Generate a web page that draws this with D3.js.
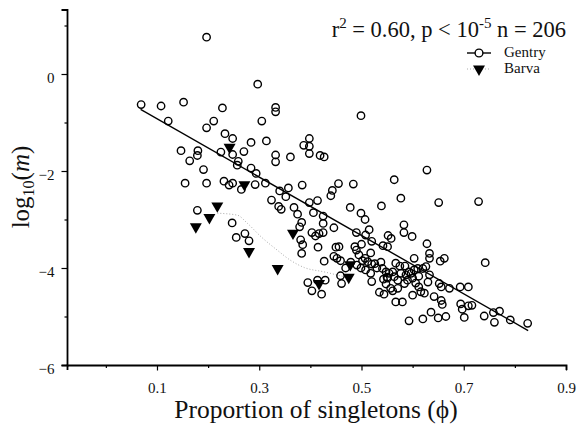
<!DOCTYPE html>
<html>
<head>
<meta charset="utf-8">
<script src="https://cdn.jsdelivr.net/npm/d3@7"></script>
<style>
  body { margin: 0; background: #fff; }
  svg text { font-family: "Liberation Serif", "Times New Roman", serif; fill: #111; }
</style>
</head>
<body>
<svg id="chart" width="578" height="429"></svg>
<script>
"use strict";

// Gentry plots: proportion of singletons (phi) and log10(m)
let gentryPhi = [
  0.197, 0.069, 0.108, 0.152, 0.122, 0.228, 0.211, 0.197, 0.233, 0.248,
  0.284, 0.305, 0.297, 0.147, 0.180, 0.179, 0.164, 0.225, 0.248, 0.270,
  0.259, 0.257, 0.191, 0.284, 0.294, 0.155, 0.197, 0.231, 0.241, 0.248,
  0.265, 0.292, 0.179, 0.247, 0.272, 0.255, 0.280, 0.332, 0.332, 0.499,
  0.314, 0.332, 0.332, 0.361, 0.387, 0.398, 0.398, 0.398, 0.419, 0.427,
  0.312, 0.340, 0.357, 0.352, 0.324, 0.338, 0.343, 0.368, 0.375, 0.383,
  0.379, 0.384, 0.398, 0.414, 0.406, 0.425, 0.425, 0.455, 0.443, 0.440,
  0.446, 0.484, 0.478, 0.499, 0.507, 0.539, 0.490, 0.515, 0.564, 0.577,
  0.583, 0.583, 0.599, 0.552, 0.558, 0.628, 0.520, 0.403, 0.410, 0.417,
  0.425, 0.381, 0.385, 0.383, 0.415, 0.450, 0.456, 0.487, 0.490, 0.500,
  0.542, 0.551, 0.628, 0.633, 0.633, 0.662, 0.654, 0.603, 0.742, 0.651,
  0.729, 0.427, 0.446, 0.452, 0.459, 0.495, 0.518, 0.507, 0.502, 0.520,
  0.395, 0.414, 0.403, 0.422, 0.429, 0.459, 0.461, 0.520, 0.518, 0.543,
  0.550, 0.557, 0.561, 0.535, 0.491, 0.499, 0.508, 0.530, 0.538, 0.541,
  0.548, 0.554, 0.561, 0.564, 0.571, 0.551, 0.577, 0.587, 0.593, 0.597,
  0.603, 0.610, 0.620, 0.626, 0.600, 0.590, 0.584, 0.567, 0.633, 0.652,
  0.656, 0.672, 0.693, 0.709, 0.612, 0.616, 0.623, 0.600, 0.642, 0.656,
  0.658, 0.567, 0.580, 0.636, 0.620, 0.593, 0.650, 0.665, 0.694, 0.697,
  0.709, 0.716, 0.701, 0.740, 0.758, 0.770, 0.760, 0.791, 0.825, 0.526,
  0.512, 0.571, 0.544, 0.479, 0.469, 0.575, 0.612, 0.585, 0.630, 0.606,
  0.548, 0.508
];
let gentryLogM = [
  0.76, -0.63, -0.66, -0.58, -0.97, -0.70, -0.97, -1.11, -1.23, -1.33,
  -1.41, -0.97, -0.21, -1.58, -1.58, -1.68, -1.79, -1.61, -1.66, -1.60,
  -1.80, -1.88, -1.97, -1.94, -2.05, -2.25, -2.25, -2.21, -2.29, -2.25,
  -2.38, -2.28, -2.81, -3.07, -3.29, -3.37, -3.44, -0.69, -0.78, -0.86,
  -1.38, -1.67, -1.81, -1.71, -1.47, -1.33, -1.49, -1.64, -1.68, -1.71,
  -2.25, -2.41, -2.35, -2.53, -2.60, -2.73, -2.79, -2.75, -2.89, -3.06,
  -3.15, -2.29, -2.65, -2.61, -2.86, -2.93, -3.08, -2.26, -2.40, -2.51,
  -3.17, -2.27, -2.75, -2.87, -3.00, -2.72, -3.27, -3.21, -2.18, -2.56,
  -3.11, -3.27, -3.35, -3.33, -3.39, -1.98, -3.45, -3.27, -3.34, -3.29,
  -3.27, -3.42, -3.52, -3.70, -3.57, -3.57, -3.56, -3.56, -3.63, -3.51,
  -3.54, -3.56, -3.50, -3.70, -3.80, -3.80, -3.86, -3.80, -3.89, -2.65,
  -2.63, -3.86, -3.76, -3.80, -3.85, -3.73, -3.69, -3.80, -3.85, -3.92,
  -4.30, -4.25, -4.47, -4.54, -4.25, -4.16, -4.32, -4.28, -4.11, -4.23,
  -4.19, -4.42, -4.47, -4.50, -3.94, -4.00, -4.04, -4.00, -3.88, -4.01,
  -4.08, -4.11, -4.08, -4.18, -4.25, -4.21, -4.11, -4.14, -4.08, -4.11,
  -4.04, -4.01, -4.01, -3.97, -4.21, -4.25, -4.32, -3.90, -4.14, -4.32,
  -4.39, -4.42, -4.39, -4.39, -4.39, -4.49, -4.52, -4.56, -4.59, -4.67,
  -4.75, -4.70, -4.70, -4.91, -5.05, -5.09, -5.03, -5.00, -4.74, -4.85,
  -4.78, -4.77, -5.02, -4.99, -4.92, -4.89, -5.12, -5.07, -5.14, -3.91,
  -3.87, -4.42, -4.54, -3.88, -4.00, -3.96, -4.17, -3.96, -4.29, -4.31,
  -4.33, -3.32
];

// Barva plots
let barvaPhi = [0.242, 0.271, 0.218, 0.2025, 0.176, 0.280, 0.336, 0.366, 0.417, 0.478, 0.475];
let barvaLogM = [-1.51, -2.28, -2.72, -2.96, -3.15, -3.66, -4.01, -3.28, -4.32, -3.93, -4.19];

// smoothed Barva trend (dotted)
let barvaTrendPhi = [0.218, 0.257, 0.277, 0.303, 0.335, 0.361, 0.388, 0.427, 0.466];
let barvaTrendLogM = [-2.87, -2.91, -3.08, -3.35, -3.63, -3.84, -3.99, -4.08, -4.18];

// Gentry regression line
let fitPhi = [0.068, 0.826];
let fitLogM = [-0.73, -5.29];

let xTickValues = [0, 0.1, 0.2, 0.3, 0.4, 0.5, 0.6, 0.7, 0.8, 0.9];
let xLabelValues = [0.1, 0.3, 0.5, 0.7, 0.9];
let yTickValues = [-6, -4, -2, 0];
let yMinorValues = [-5, -3, -1, 1];

let svg = d3.select("#chart");

let x = d3.scaleLinear().domain([-0.076, 0.9]).range([67, 566]);
let y = d3.scaleLinear().domain([-6, 1.33]).range([365, 9.5]);

function isLabelled(d) {
  return xLabelValues.some(v => Math.abs(v - d) < 1e-9);
}

// x axis
let xAxis = svg.append("g")
  .attr("transform", "translate(0,365)")
  .call(d3.axisBottom(x)
    .tickValues(xTickValues)
    .tickSizeOuter(0)
    .tickSize(5)
    .tickFormat(d => isLabelled(d) ? d3.format(".1f")(d) : ""));
xAxis.select(".domain").attr("stroke-width", 1.8);
xAxis.selectAll(".tick line")
  .attr("stroke-width", 1.2)
  .attr("y2", d => isLabelled(d) ? 5.5 : 3);
xAxis.selectAll(".tick text")
  .attr("y", 0).attr("dy", 0)
  .attr("transform", "translate(0,28)")
  .style("font-size", "15px")
  .style("font-family", "'Liberation Serif', serif")
  .attr("fill", "#222");

// y axis
let yAxis = svg.append("g")
  .attr("transform", "translate(67,0)")
  .call(d3.axisLeft(y).tickValues(yTickValues).tickSizeOuter(0).tickSize(5.5).tickFormat(d3.format("d")));
yAxis.select(".domain").attr("stroke-width", 1.8);
yAxis.selectAll(".tick line").attr("stroke-width", 1.2);
yAxis.selectAll(".tick text")
  .attr("x", -12.5).attr("dy", 0)
  .attr("transform", "translate(0,8)")
  .style("font-size", "15px")
  .style("font-family", "'Liberation Serif', serif")
  .attr("fill", "#222");

let yMinor = svg.append("g")
  .attr("transform", "translate(67,0)")
  .call(d3.axisLeft(y).tickValues(yMinorValues).tickSize(2.5).tickFormat(""));
yMinor.select(".domain").remove();
yMinor.selectAll(".tick line").attr("stroke-width", 1.2);

// axis titles
svg.append("text")
  .attr("x", 316).attr("y", 418)
  .attr("text-anchor", "middle")
  .style("font-size", "25.5px")
  .text("Proportion of singletons (\u03d5)");

let yTitle = svg.append("text")
  .attr("transform", "translate(29,187) rotate(-90)")
  .attr("text-anchor", "middle")
  .style("font-size", "25px");
yTitle.append("tspan").text("log");
yTitle.append("tspan").attr("dy", 5).style("font-size", "16px").text("10");
yTitle.append("tspan").attr("dy", -5).text("(");
yTitle.append("tspan").style("font-style", "italic").text("m");
yTitle.append("tspan").text(")");

// statistics annotation
let stat = svg.append("text")
  .attr("x", 566).attr("y", 37)
  .attr("text-anchor", "end")
  .style("font-size", "22.5px");
stat.append("tspan").text("r");
stat.append("tspan").attr("dy", -9).style("font-size", "15px").text("2");
stat.append("tspan").attr("dy", 9).text(" = 0.60, p < 10");
stat.append("tspan").attr("dy", -9).style("font-size", "15px").text("-5");
stat.append("tspan").attr("dy", 9).text(" n = 206");

// Gentry regression line
let fitLine = d3.line().x(d => x(d[0])).y(d => y(d[1]));
svg.append("path")
  .datum(d3.zip(fitPhi, fitLogM))
  .attr("d", fitLine)
  .attr("fill", "none")
  .attr("stroke", "#000")
  .attr("stroke-width", 1.4);

// Barva dotted trend
let trendLine = d3.line().x(d => x(d[0])).y(d => y(d[1])).curve(d3.curveMonotoneX);
svg.append("path")
  .datum(d3.zip(barvaTrendPhi, barvaTrendLogM))
  .attr("d", trendLine)
  .attr("fill", "none")
  .attr("stroke", "#aaa")
  .attr("stroke-width", 1)
  .attr("stroke-dasharray", "1,2");

// Gentry circles
svg.append("g").selectAll("circle")
  .data(d3.zip(gentryPhi, gentryLogM))
  .enter()
  .append("circle")
  .attr("cx", d => x(d[0]))
  .attr("cy", d => y(d[1]))
  .attr("r", 3.7)
  .attr("fill", "none")
  .attr("stroke", "#000")
  .attr("stroke-width", 1.4);

// Barva triangles
let tri = d3.symbol().type(d3.symbolTriangle).size(62);
svg.append("g").selectAll("path")
  .data(d3.zip(barvaPhi, barvaLogM))
  .enter()
  .append("path")
  .attr("d", tri)
  .attr("transform", d => `translate(${x(d[0])},${y(d[1])}) rotate(180)`)
  .attr("fill", "#000");

// legend
let legend = svg.append("g");
legend.append("line")
  .attr("x1", 467).attr("x2", 491).attr("y1", 53).attr("y2", 53)
  .attr("stroke", "#000").attr("stroke-width", 1.4);
legend.append("circle")
  .attr("cx", 479).attr("cy", 53).attr("r", 3.9)
  .attr("fill", "#fff").attr("stroke", "#000").attr("stroke-width", 1.4);
legend.append("text").attr("x", 504).attr("y", 57).style("font-size", "15px").text("Gentry");
legend.append("line")
  .attr("x1", 467).attr("x2", 491).attr("y1", 69).attr("y2", 69)
  .attr("stroke", "#aaa").attr("stroke-width", 1).attr("stroke-dasharray", "1,2");
legend.append("path")
  .attr("d", tri)
  .attr("transform", "translate(479,69) rotate(180)")
  .attr("fill", "#000");
legend.append("text").attr("x", 504).attr("y", 73).style("font-size", "15px").text("Barva");
</script>
</body>
</html>
